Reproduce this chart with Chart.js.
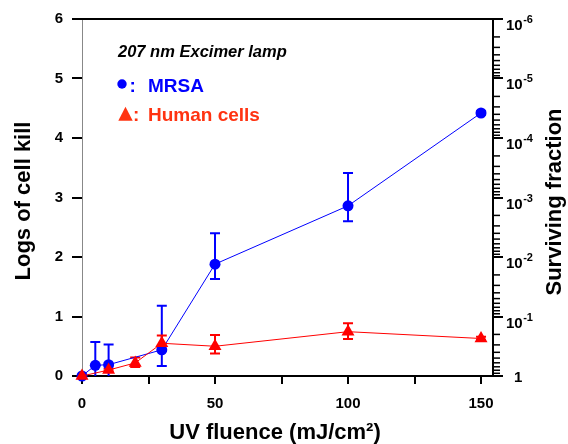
<!DOCTYPE html>
<html><head><meta charset="utf-8">
<script src="https://cdn.jsdelivr.net/npm/chart.js@4/dist/chart.umd.min.js"></script>
<style>html,body{margin:0;padding:0;background:#fff}#wrap{width:568px;height:444px}</style>
</head><body><div id="wrap"><canvas id="c" width="568" height="444"></canvas></div>
<script>
// ---- data ----
const mrsaFluence  = [0, 5, 10, 30, 50, 100, 150];
const mrsaKill     = [0, 0.18, 0.19, 0.44, 1.88, 2.86, 4.42];
const mrsaErrLow   = [0, -0.2, -0.2, 0.17, 1.63, 2.60, 4.39];
const mrsaErrHigh  = [0, 0.57, 0.53, 1.18, 2.40, 3.41, 4.45];

const humanFluence = [0, 10, 20, 30, 50, 100, 150];
const humanKill    = [0, 0.10, 0.22, 0.55, 0.50, 0.745, 0.63];
const humanErrLow  = [0, 0.08, 0.15, 0.42, 0.38, 0.62, 0.61];
const humanErrHigh = [0, 0.12, 0.31, 0.68, 0.69, 0.885, 0.66];

const xTickValues  = [0, 25, 50, 75, 100, 125, 150];
const xTickLabels  = [0, 50, 100, 150];
const killTicks    = [0, 1, 2, 3, 4, 5, 6];
const survivalExps = ['', '-1', '-2', '-3', '-4', '-5', '-6'];

const titleText   = '207 nm Excimer lamp';
const mrsaLabel   = 'MRSA';
const humanLabel  = 'Human cells';
const xTitle      = 'UV fluence (mJ/cm²)';
const yTitle      = 'Logs of cell kill';
const y2Title     = 'Surviving fraction';

const FF = "'Liberation Sans', Arial, sans-serif";
const BLUE = '#0000ff', RED = '#ff0000', RED_TXT = '#ff3311';

function drawErrorBars(chart, xs, lo, hi, color) {
  const {ctx, chartArea: a, scales: {x, y}} = chart;
  ctx.save();
  ctx.beginPath(); ctx.rect(a.left - 10, a.top, a.width + 20, a.height); ctx.clip();
  ctx.strokeStyle = color; ctx.lineWidth = 2;
  xs.forEach((v, i) => {
    const px = x.getPixelForValue(v);
    const y1 = y.getPixelForValue(lo[i]);
    const y2 = y.getPixelForValue(hi[i]);
    if (Math.abs(y1 - y2) < 1) return;
    ctx.beginPath();
    ctx.moveTo(px, y1); ctx.lineTo(px, y2);
    ctx.moveTo(px - 5, y1); ctx.lineTo(px + 5, y1);
    ctx.moveTo(px - 5, y2); ctx.lineTo(px + 5, y2);
    ctx.stroke();
  });
  ctx.restore();
}

const overlay = {
  id: 'overlay',
  beforeDatasetsDraw(chart) {
    drawErrorBars(chart, mrsaFluence, mrsaErrLow, mrsaErrHigh, BLUE);
    drawErrorBars(chart, humanFluence, humanErrLow, humanErrHigh, RED);
  },
  afterDraw(chart) {
    const {ctx, chartArea: a, scales} = chart;
    const y2 = scales.y2;
    ctx.save();
    // top frame
    ctx.strokeStyle = '#000'; ctx.lineWidth = 2;
    ctx.beginPath(); ctx.moveTo(a.left, a.top); ctx.lineTo(a.right + 1, a.top); ctx.stroke();
    // right axis ticks (log scale of surviving fraction)
    for (let n = 0; n < killTicks.length; n++) {
      const yy = Math.round(y2.getPixelForValue(killTicks[n]));
      ctx.lineWidth = 2;
      ctx.beginPath(); ctx.moveTo(a.right, yy); ctx.lineTo(a.right + 10, yy); ctx.stroke();
      if (n < killTicks.length - 1) {
        for (let k = 2; k <= 9; k++) {
          const v = killTicks[n] + 1 - Math.log10(k);
          const ym = y2.getPixelForValue(v);
          ctx.lineWidth = 1.5;
          ctx.beginPath(); ctx.moveTo(a.right, ym); ctx.lineTo(a.right + 7, ym); ctx.stroke();
        }
      }
      // labels
      ctx.fillStyle = '#000';
      ctx.textBaseline = 'alphabetic';
      if (survivalExps[n] === '') {
        ctx.font = 'bold 15px ' + FF; ctx.textAlign = 'left';
        ctx.fillText('1', 514, yy + 5.5);
      } else {
        ctx.font = 'bold 15px ' + FF; ctx.textAlign = 'left';
        ctx.fillText('10', 506, yy + 11);
        const w = ctx.measureText('10').width;
        ctx.font = 'bold 11px ' + FF;
        ctx.fillText(survivalExps[n], 506 + w + 0.5, yy + 4);
      }
    }
    // axis titles
    ctx.fillStyle = '#000';
    ctx.font = 'bold 22px ' + FF;
    ctx.textAlign = 'center'; ctx.textBaseline = 'alphabetic';
    ctx.fillText(xTitle, 275, 439);
    ctx.save(); ctx.translate(30, 201); ctx.rotate(-Math.PI / 2); ctx.fillText(yTitle, 0, 0); ctx.restore();
    ctx.save(); ctx.translate(561, 202); ctx.rotate(-Math.PI / 2); ctx.fillText(y2Title, 0, 0); ctx.restore();
    // in-plot legend
    ctx.textAlign = 'left';
    ctx.font = 'italic bold 16.5px ' + FF;
    ctx.fillText(titleText, 118, 57);
    ctx.fillStyle = BLUE;
    ctx.beginPath(); ctx.arc(122, 84, 4.7, 0, Math.PI * 2); ctx.fill();
    ctx.font = 'bold 19px ' + FF;
    ctx.fillText(':', 129.5, 92);
    ctx.fillText(mrsaLabel, 148, 92);
    ctx.fillStyle = RED_TXT;
    ctx.beginPath(); ctx.moveTo(118.3, 120.7); ctx.lineTo(132.7, 120.7); ctx.lineTo(125.5, 106.7); ctx.closePath(); ctx.fill();
    ctx.fillText(':', 133, 121);
    ctx.fillText(humanLabel, 148, 121);
    ctx.restore();
  }
};

new Chart(document.getElementById('c'), {
  type: 'line',
  data: {
    datasets: [
      {
        label: humanLabel,
        data: humanFluence.map((v, i) => ({x: v, y: humanKill[i]})),
        borderColor: RED, backgroundColor: RED, borderWidth: 1,
        pointStyle: 'triangle', pointRadius: 7.5, pointBorderWidth: 0,
        order: 0, clip: false
      },
      {
        label: mrsaLabel,
        data: mrsaFluence.map((v, i) => ({x: v, y: mrsaKill[i]})),
        borderColor: BLUE, backgroundColor: BLUE, borderWidth: 1,
        pointStyle: 'circle', pointRadius: 5.5, pointBorderWidth: 0,
        order: 1, clip: false
      }
    ]
  },
  options: {
    responsive: false, animation: false, devicePixelRatio: 1,
    plugins: {legend: {display: false}, tooltip: {enabled: false}},
    layout: {padding: {top: 19, left: 0, right: 0, bottom: 0}},
    scales: {
      x: {
        type: 'linear', position: 'bottom', min: 0, max: 154.5,
        afterFit: s => { s.height = 68; },
        afterBuildTicks: s => { s.ticks = xTickValues.map(v => ({value: v})); },
        border: {color: '#000', width: 2},
        grid: {drawOnChartArea: false, drawTicks: true, tickLength: 8, color: '#000', lineWidth: 2},
        ticks: {
          color: '#000', font: {family: FF, size: 15, weight: 'bold'}, padding: 11,
          autoSkip: false, maxRotation: 0,
          callback: v => xTickLabels.includes(v) ? String(v) : ''
        }
      },
      y: {
        type: 'linear', position: 'left', min: 0, max: 6,
        afterFit: s => { s.width = 82; },
        afterBuildTicks: s => { s.ticks = killTicks.map(v => ({value: v})); },
        border: {color: '#888', width: 1},
        grid: {drawOnChartArea: false, drawTicks: true, tickLength: 10, color: '#000', lineWidth: 2},
        ticks: {color: '#000', font: {family: FF, size: 15, weight: 'bold'}, padding: 9}
      },
      y2: {
        type: 'linear', position: 'right', min: 0, max: 6,
        afterFit: s => { s.width = 75; },
        border: {color: '#000', width: 2},
        grid: {drawOnChartArea: false, drawTicks: false},
        ticks: {display: false}
      }
    }
  },
  plugins: [overlay]
});
</script>
</body></html>
